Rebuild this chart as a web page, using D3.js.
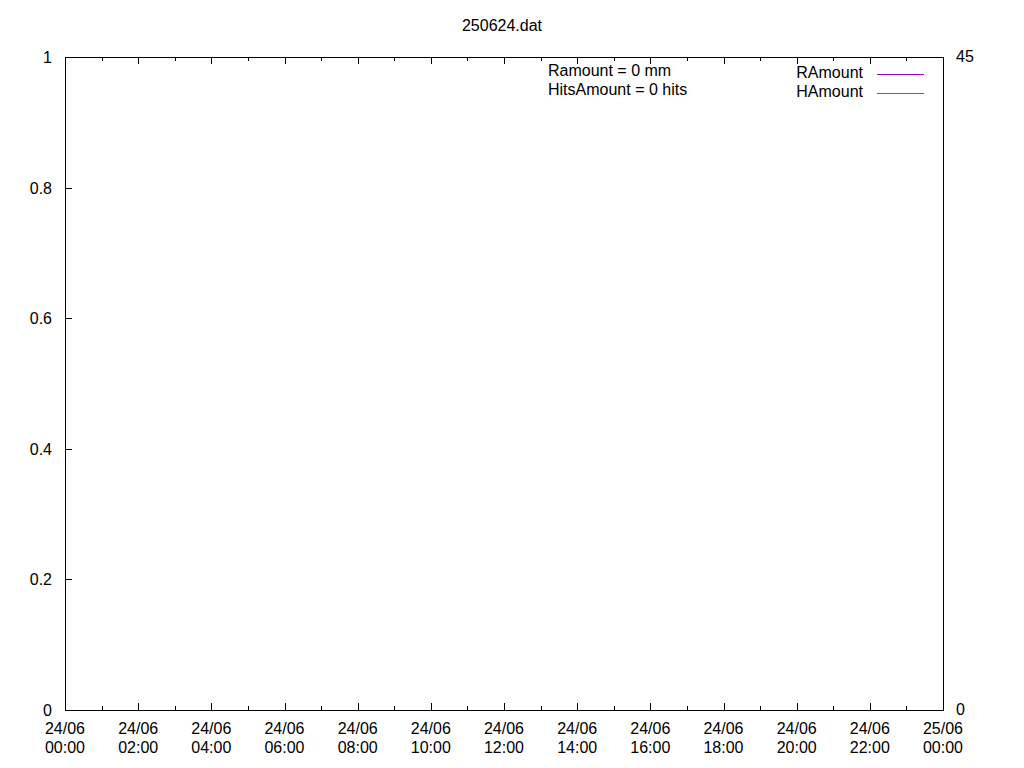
<!DOCTYPE html>
<html>
<head>
<meta charset="utf-8">
<script src="https://cdn.jsdelivr.net/npm/d3@7"></script>
<style>
  html, body { margin: 0; padding: 0; background: #fff; }
  svg { display: block; font-family: "Liberation Sans", Arial, sans-serif; }
</style>
</head>
<body>
<svg id="chart" width="1024" height="768"></svg>
<script>
// ---- data ----
const chartTitle = "250624.dat";
const seriesNames = ["RAmount", "HAmount"];
const seriesColors = ["#9400d3", "#009e73"];
// no samples recorded in this file: both series are empty
const rAmountTimes = [];
const rAmountValues = [];
const hAmountTimes = [];
const hAmountValues = [];
const summaryLines = ["Ramount = 0 mm", "HitsAmount = 0 hits"];
const yTicks = [0, 0.2, 0.4, 0.6, 0.8, 1];
const y2Ticks = [0, 45];
const xStart = new Date(2025, 5, 24, 0, 0);
const xEnd = new Date(2025, 5, 25, 0, 0);

// ---- layout ----
const svg = d3.select("#chart");
const L = 65, R = 943, T = 57, B = 710;
const fs = 16;

const x = d3.scaleTime().domain([xStart, xEnd]).range([L, R]);
const y = d3.scaleLinear().domain([0, 1]).range([B, T]);
const y2 = d3.scaleLinear().domain([0, 45]).range([B, T]);

const fmtDay = d3.timeFormat("%d/%m");
const fmtTime = d3.timeFormat("%H:%M");

// title
svg.append("text").attr("x", 502).attr("y", 31).attr("text-anchor", "middle")
  .attr("font-size", fs).attr("fill", "#000").text(chartTitle);

// x ticks (major every 2h, minor every 1h), bottom and mirrored top
const majors = d3.timeHour.every(2).range(xStart, new Date(+xEnd + 1));
const minors = d3.timeHour.every(1).range(xStart, new Date(+xEnd + 1)).filter(d => d.getHours() % 2 === 1);

const tickG = svg.append("g").attr("stroke", "#000").attr("stroke-width", 1).attr("shape-rendering", "crispEdges");
majors.forEach(d => {
  const px = Math.round(x(d)) + 0.5;
  tickG.append("line").attr("x1", px).attr("x2", px).attr("y1", B).attr("y2", B - 7);
  tickG.append("line").attr("x1", px).attr("x2", px).attr("y1", T).attr("y2", T + 7);
});
minors.forEach(d => {
  const px = Math.round(x(d)) + 0.5;
  tickG.append("line").attr("x1", px).attr("x2", px).attr("y1", B).attr("y2", B - 4);
  tickG.append("line").attr("x1", px).attr("x2", px).attr("y1", T).attr("y2", T + 4);
});
// y ticks (left only)
yTicks.forEach(v => {
  const py = Math.round(y(v)) + 0.5;
  tickG.append("line").attr("x1", L).attr("x2", L + 7).attr("y1", py).attr("y2", py);
});

// x labels
const xl = svg.append("g").attr("font-size", fs).attr("text-anchor", "middle").attr("fill", "#000");
majors.forEach(d => {
  const t = xl.append("text").attr("x", x(d)).attr("y", 734);
  t.append("tspan").attr("x", x(d)).text(fmtDay(d));
  t.append("tspan").attr("x", x(d)).attr("dy", 19).text(fmtTime(d));
});

// y labels
const yl = svg.append("g").attr("font-size", fs).attr("text-anchor", "end").attr("fill", "#000");
yTicks.forEach(v => {
  yl.append("text").attr("x", 52).attr("y", y(v) + 6).text(d3.format("")(v));
});
// y2 labels
const y2l = svg.append("g").attr("font-size", fs).attr("text-anchor", "start").attr("fill", "#000");
y2Ticks.forEach(v => {
  y2l.append("text").attr("x", 956).attr("y", y2(v) + 5).text(v);
});

// data lines
const line = d3.line().x(d => x(d[0])).y(d => y(d[1]));
svg.append("path").datum(rAmountTimes.map((t, i) => [t, rAmountValues[i]]))
  .attr("d", line).attr("fill", "none").attr("stroke", seriesColors[0]);
const line2 = d3.line().x(d => x(d[0])).y(d => y2(d[1]));
svg.append("path").datum(hAmountTimes.map((t, i) => [t, hAmountValues[i]]))
  .attr("d", line2).attr("fill", "none").attr("stroke", seriesColors[1]);

// border
svg.append("rect").attr("x", L + 0.5).attr("y", T + 0.5).attr("width", R - L).attr("height", B - T)
  .attr("fill", "none").attr("stroke", "#000").attr("stroke-width", 1).attr("shape-rendering", "crispEdges");

// summary labels
summaryLines.forEach((s, i) => {
  svg.append("text").attr("x", 548).attr("y", 76 + i * 19).attr("font-size", fs).attr("fill", "#000").text(s);
});

// legend
seriesNames.forEach((n, i) => {
  const ly = 74 + i * 19;
  svg.append("text").attr("x", 863).attr("y", ly + 4).attr("text-anchor", "end")
    .attr("font-size", fs).attr("fill", "#000").text(n);
  svg.append("line").attr("x1", 877).attr("x2", 924).attr("y1", ly + 0.5).attr("y2", ly + 0.5)
    .attr("stroke", seriesColors[i]).attr("stroke-width", 1).attr("shape-rendering", "crispEdges");
});
</script>
</body>
</html>
